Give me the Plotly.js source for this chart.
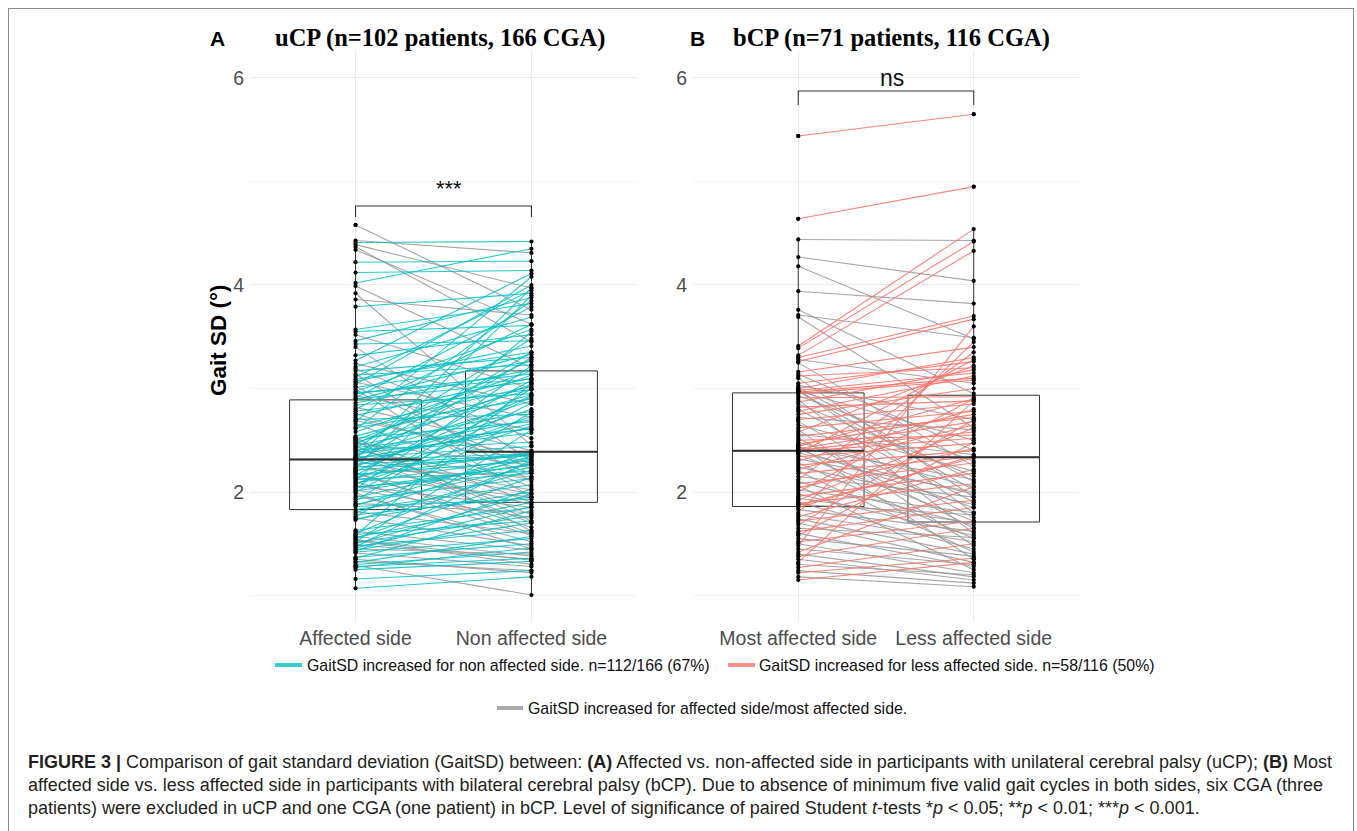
<!DOCTYPE html>
<html><head><meta charset="utf-8">
<script src="https://cdn.plot.ly/plotly-3.0.1.min.js"></script>
<style>html,body{margin:0;padding:0;background:#fff;}#chart{width:1357px;height:831px;}</style>
</head><body><div id="chart"></div>
<script>
// ---------- data ----------
const uCPCategories = ['Affected side', 'Non affected side'];
const bCPCategories = ['Most affected side', 'Less affected side'];

const uCPAffected = [
 4.58,4.43,4.41,4.39,4.37,4.34,4.22,4.12,4.02,3.99,3.92,3.86,3.79,3.57,3.55,3.52,3.46,3.43,3.40,3.32,3.27,3.24,3.21,3.17,3.14,3.11,3.09,3.06,3.04,3.01,2.99,2.97,2.95,2.93,2.91,2.90,3.13,3.19,3.07,3.02,2.96,2.89,
 2.86,2.84,2.82,2.80,2.78,2.76,2.74,2.72,2.70,2.68,2.66,2.64,2.62,2.61,2.52,2.51,2.50,2.49,2.48,2.47,2.46,2.45,2.44,2.43,2.42,2.41,2.40,2.39,2.38,2.37,2.36,2.35,2.34,2.335,2.33,2.325,2.32,2.53,2.54,2.69,2.58,
 2.31,2.30,2.29,2.28,2.27,2.26,2.25,2.24,2.23,2.22,2.21,2.20,2.19,2.18,2.17,2.16,2.15,2.14,2.13,2.12,2.11,2.10,2.09,2.08,2.07,2.06,2.05,2.04,2.03,2.02,2.01,2.00,1.99,1.97,1.95,1.93,1.91,1.89,1.88,1.87,1.86,
 1.83,1.81,1.80,1.78,1.76,1.75,1.74,1.73,1.63,1.62,1.60,1.59,1.58,1.57,1.56,1.55,1.54,1.53,1.52,1.51,1.50,1.49,1.48,1.47,1.46,1.45,1.44,1.43,1.42,1.41,1.37,1.36,1.35,1.33,1.32,1.30,1.29,1.28,1.27,1.25,1.16,1.07
];
const uCPNonAffected = [
 3.76,4.31,4.42,3.97,3.45,3.62,4.23,4.14,4.35,3.20,2.45,3.71,3.92,3.82,3.61,3.00,3.88,3.46,2.30,3.52,4.11,2.85,3.69,3.30,2.10,3.95,3.35,2.72,4.00,3.26,1.95,3.57,3.14,2.60,3.79,3.06,3.23,2.52,3.41,2.22,3.09,3.33,
 3.18,2.95,2.40,3.62,2.99,2.18,3.10,2.28,2.75,4.08,2.05,3.02,2.90,3.85,2.68,1.90,3.13,1.72,2.94,2.26,3.28,2.78,1.78,2.61,3.48,2.48,2.12,3.04,2.70,2.57,1.70,2.88,3.35,2.44,2.02,2.62,3.97,1.62,2.99,2.34,3.17,
 2.37,1.98,2.66,3.30,2.36,1.88,2.80,2.35,3.90,2.15,2.36,2.93,1.60,1.66,2.30,3.08,2.38,1.95,2.73,2.20,3.55,1.58,2.33,2.64,2.92,1.85,2.18,2.26,3.22,1.75,2.27,2.86,1.45,1.52,2.32,2.13,3.00,1.80,2.24,2.38,1.93,
 2.07,1.60,2.35,1.95,2.77,1.48,2.00,2.21,1.85,1.44,2.29,1.72,3.05,1.38,1.90,2.14,1.34,1.30,2.60,1.77,1.98,1.35,1.63,2.31,1.86,1.40,1.70,2.03,1.55,1.28,1.50,1.82,1.22,1.24,1.57,1.42,1.005,1.36,1.46,1.33,1.24,1.18
];

const bCPMost = [
 5.44,4.64,4.44,4.27,4.18,3.94,3.76,3.71,3.69,3.41,3.39,3.32,3.30,3.28,3.26,3.25,3.16,3.14,3.12,3.10,3.05,3.03,3.01,3.00,2.99,2.98,2.975,2.97,2.965,
 2.95,2.93,2.91,2.89,2.87,2.85,2.82,2.80,2.78,2.75,2.72,2.70,2.68,2.65,2.62,2.60,2.58,2.56,2.54,2.52,2.50,2.48,2.46,2.45,2.44,2.43,2.42,2.41,2.405,
 2.39,2.38,2.37,2.36,2.34,2.32,2.30,2.28,2.26,2.24,2.22,2.20,2.18,2.15,2.12,2.10,2.08,2.06,2.04,2.02,2.00,1.98,1.96,1.94,1.92,1.90,1.89,1.88,1.87,
 1.85,1.83,1.80,1.78,1.76,1.74,1.72,1.70,1.68,1.65,1.62,1.60,1.58,1.55,1.52,1.50,1.48,1.45,1.42,1.40,1.38,1.35,1.32,1.30,1.27,1.24,1.22,1.18,1.15
];
const bCPLess = [
 5.65,4.95,4.43,4.04,3.48,3.82,2.95,3.49,2.62,4.54,4.42,4.33,3.70,3.05,3.67,2.25,3.40,2.40,3.20,1.95,3.26,2.70,2.10,3.30,1.80,3.15,2.50,2.02,3.10,
 3.08,2.30,2.92,1.60,3.18,2.15,2.88,1.90,3.12,3.00,2.60,2.85,1.75,2.20,2.78,1.48,3.22,2.36,2.72,1.65,2.55,2.05,2.75,1.35,2.90,2.12,2.68,1.85,2.58,
 2.52,1.98,3.28,1.72,2.47,2.00,2.80,1.55,2.40,1.88,2.65,1.42,2.34,1.95,3.35,1.68,2.28,1.25,2.42,1.80,2.90,1.58,2.18,1.70,2.62,1.45,2.08,1.78,2.33,
 2.35,1.62,3.45,1.52,2.22,1.40,1.92,1.32,2.70,1.56,1.85,1.28,2.48,1.38,1.72,1.22,3.60,1.30,2.05,1.18,1.65,1.15,2.88,1.20,1.50,1.12,1.36,1.085,1.32
];

const yTickValues = [2, 4, 6];
const yMinorTickValues = [1, 3, 5];
const legendLabels = [
 'GaitSD increased for non affected side. n=112/166 (67%)',
 'GaitSD increased for less affected side. n=58/116 (50%)',
 'GaitSD increased for affected side/most affected side.'
];
const significanceLabels = ['***', 'ns'];
const significanceBracketY = [[4.657, 4.763], [5.739, 5.874]];

// ---------- styles ----------
const CYAN = 'rgba(0,191,196,0.85)';
const RED = 'rgba(248,118,109,0.9)';
const GREY = 'rgba(150,150,150,0.85)';
const BOX_WIDTH = 0.75;
const W = 1357, H = 831;
const px = v => v / W, py = v => 1 - v / H;
const SANS = 'Liberation Sans, Arial, sans-serif';
const SERIF = 'Liberation Serif, Times New Roman, serif';

function median(arr) {
  const s = [...arr].sort((a, b) => a - b), n = s.length;
  return n % 2 ? s[(n - 1) / 2] : (s[n / 2 - 1] + s[n / 2]) / 2;
}
function pairLines(a, b, keep, color, xa, ya) {
  const x = [], y = [];
  a.forEach((v, i) => { if (keep(v, b[i])) { x.push(0, 1, null); y.push(v, b[i], null); } });
  return {type: 'scatter', mode: 'lines', x, y, xaxis: xa, yaxis: ya, connectgaps: false,
          line: {color, width: 1.1}, hoverinfo: 'skip'};
}
function panel(a, b, upColor, xa, ya) {
  const med = [median(a), median(b)];
  return [
    {type: 'box', x: a.map(() => 0).concat(b.map(() => 1)), y: a.concat(b), xaxis: xa, yaxis: ya,
     width: BOX_WIDTH, boxpoints: 'outliers', whiskerwidth: 0, fillcolor: 'rgba(0,0,0,0)',
     line: {color: '#333333', width: 1}, marker: {color: '#000', size: 4}, hoverinfo: 'skip'},
    pairLines(a, b, (l, r) => r <= l, GREY, xa, ya),
    pairLines(a, b, (l, r) => r > l, upColor, xa, ya),
    {type: 'scatter', mode: 'lines', xaxis: xa, yaxis: ya, hoverinfo: 'skip',
     x: [-BOX_WIDTH / 2, BOX_WIDTH / 2, null, 1 - BOX_WIDTH / 2, 1 + BOX_WIDTH / 2],
     y: [med[0], med[0], null, med[1], med[1]], line: {color: '#333333', width: 2}},
    {type: 'scatter', mode: 'markers', xaxis: xa, yaxis: ya, hoverinfo: 'skip',
     x: a.map(() => 0).concat(b.map(() => 1)), y: a.concat(b), marker: {color: '#000', size: 4.2}}
  ];
}
function bracket(yy, xa, ya) {
  return {type: 'scatter', mode: 'lines', xaxis: xa, yaxis: ya, hoverinfo: 'skip',
          x: [0, 0, 1, 1], y: [yy[0], yy[1], yy[1], yy[0]], line: {color: '#333333', width: 1.1}};
}

const data = [
  ...panel(uCPAffected, uCPNonAffected, CYAN, 'x', 'y'),
  ...panel(bCPMost, bCPLess, RED, 'x2', 'y2'),
  bracket(significanceBracketY[0], 'x', 'y'),
  bracket(significanceBracketY[1], 'x2', 'y2')
];

const xBase = {range: [-0.6, 1.6], tickvals: [0, 1], showgrid: true, gridcolor: '#ebebeb', gridwidth: 1,
  zeroline: false, showline: false, ticks: '', ticklabelstandoff: 2,
  tickfont: {family: SANS, size: 19.5, color: '#4d4d4d'}, fixedrange: true};
const yBase = {range: [0.744, 6.251], tickvals: yTickValues, showgrid: true, gridcolor: '#ebebeb', gridwidth: 1,
  zeroline: false, showline: false, ticks: '', ticklabelstandoff: 5,
  tickfont: {family: SANS, size: 19.5, color: '#4d4d4d'}, fixedrange: true,
  minor: {tickvals: yMinorTickValues, showgrid: true, gridcolor: '#f4f4f4', gridwidth: 1, ticks: ''},
  domain: [py(622), py(52)]};

const ann = [];
function text(t, x, y, font, extra) {
  ann.push(Object.assign({text: t, x: px(x), y: py(y), xref: 'paper', yref: 'paper', showarrow: false,
    xanchor: 'center', yanchor: 'middle', font}, extra || {}));
}
text('<b>A</b>', 218, 38, {family: SANS, size: 21, color: '#000'});
text('<b>uCP (n=102 patients, 166 CGA)</b>', 440, 38, {family: SERIF, size: 24.5, color: '#000'});
text('<b>B</b>', 697, 38, {family: SANS, size: 21, color: '#000'});
text('<b>bCP (n=71 patients, 116 CGA)</b>', 891, 38, {family: SERIF, size: 24.5, color: '#000'});
text('<b>Gait SD (°)</b>', 218, 340, {family: SANS, size: 22.5, color: '#000'}, {textangle: -90});
ann.push({text: significanceLabels[0], x: 0.5, y: significanceBracketY[0][1], xref: 'x', yref: 'y', xanchor: 'center', yanchor: 'bottom', xshift: 5, yshift: 3, showarrow: false, font: {family: SANS, size: 22, color: '#111'}});
ann.push({text: significanceLabels[1], x: 0.5, y: significanceBracketY[1][1], xref: 'x2', yref: 'y2', xanchor: 'center', yanchor: 'bottom', xshift: 6, yshift: -2, showarrow: false, font: {family: SANS, size: 23, color: '#111'}});
// legend
const legFont = {family: SANS, size: 15.9, color: '#111'};
text(legendLabels[0], 305, 665, legFont, {xanchor: 'left'});
text(legendLabels[1], 757, 665, legFont, {xanchor: 'left'});
text(legendLabels[2], 526, 708, legFont, {xanchor: 'left'});
// caption
const capFont = {family: SANS, size: 18.0, color: '#231f20'};
text('<b>FIGURE 3 |</b> Comparison of gait standard deviation (GaitSD) between: <b>(A)</b> Affected vs. non-affected side in participants with unilateral cerebral palsy (uCP); <b>(B)</b> Most', 26, 762, capFont, {xanchor: 'left'});
text('affected side vs. less affected side in participants with bilateral cerebral palsy (bCP). Due to absence of minimum five valid gait cycles in both sides, six CGA (three', 26, 785, capFont, {xanchor: 'left'});
text('patients) were excluded in uCP and one CGA (one patient) in bCP. Level of significance of paired Student <i>t</i>-tests *<i>p</i> &lt; 0.05; **<i>p</i> &lt; 0.01; ***<i>p</i> &lt; 0.001.', 26, 808, capFont, {xanchor: 'left'});

function hline(x0, x1, y, color, width) { return {type: 'line', xref: 'paper', yref: 'paper', x0: px(x0), x1: px(x1), y0: py(y), y1: py(y), line: {color, width}}; }
function vline(x, y0, y1, color, width) { return {type: 'line', xref: 'paper', yref: 'paper', x0: px(x), x1: px(x), y0: py(y0), y1: py(y1), line: {color, width}}; }
const shapes = [
  hline(275, 302, 665, 'rgba(0,191,196,0.8)', 4),
  hline(728, 755, 665, 'rgba(248,118,109,0.8)', 4),
  hline(497, 523, 708, 'rgba(160,160,160,0.9)', 4),
  hline(8, 1354, 8.5, '#8a8a8a', 1),
  vline(8.5, 8, 831, '#8a8a8a', 1),
  vline(1353.5, 8, 831, '#8a8a8a', 1)
];

const layout = {
  width: W, height: H, margin: {l: 0, r: 0, t: 0, b: 0}, paper_bgcolor: '#fff', plot_bgcolor: '#fff',
  showlegend: false, font: {family: SANS},
  xaxis: Object.assign({}, xBase, {domain: [px(250), px(637)], ticktext: uCPCategories, anchor: 'y'}),
  yaxis: Object.assign({}, yBase, {anchor: 'x'}),
  xaxis2: Object.assign({}, xBase, {domain: [px(693), px(1079)], ticktext: bCPCategories, anchor: 'y2'}),
  yaxis2: Object.assign({}, yBase, {anchor: 'x2'}),
  annotations: ann, shapes
};
Plotly.newPlot('chart', data, layout, {staticPlot: true, displayModeBar: false});
</script></body></html>
